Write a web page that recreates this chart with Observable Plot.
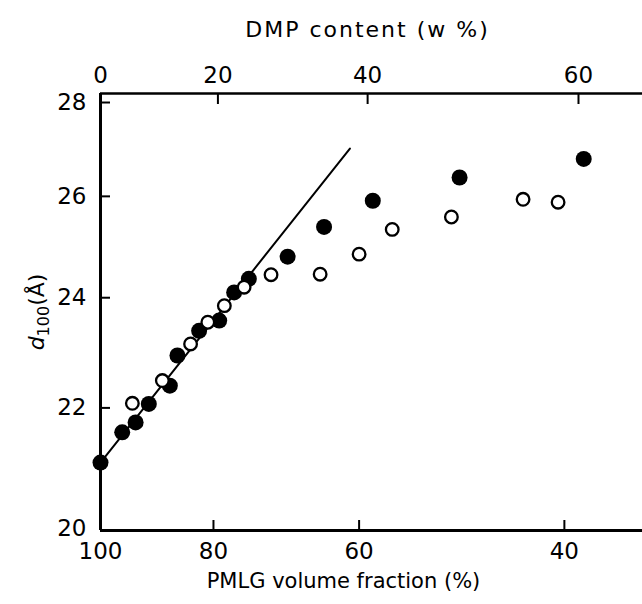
<!DOCTYPE html>
<html>
<head>
<meta charset="utf-8">
<script src="https://cdn.jsdelivr.net/npm/d3@7"></script>
<script src="https://cdn.jsdelivr.net/npm/@observablehq/plot@0.6"></script>
<style>
  body { margin: 0; background: #fff; }
  svg { display: block; }
</style>
</head>
<body>
<div id="chart"></div>
<script>
// Filled circles: PMLG volume fraction (%) vs d100 (Å)
const filledPhi = [100, 95.8, 93.3, 90.9, 87.2, 85.9, 82.3, 79.1, 76.8, 74.6, 69.1, 64.3, 58.4, 49.2, 38.5];
const filledD   = [21.07, 21.58, 21.75, 22.07, 22.39, 22.93, 23.38, 23.57, 24.10, 24.36, 24.79, 25.38, 25.91, 26.39, 26.78];
// Open circles
const openPhi = [93.9, 88.5, 83.7, 80.9, 78.3, 75.3, 71.4, 64.8, 60.0, 56.2, 50.0, 43.4, 40.5];
const openD   = [22.08, 22.48, 23.14, 23.54, 23.85, 24.20, 24.44, 24.45, 24.84, 25.33, 25.58, 25.94, 25.88];
// Straight reference line (end points)
const linePhi = [100, 61.1];
const lineD   = [21.07, 27.0];
// Axes
const pmlgTicks = [100, 80, 60, 40];
const dmpTicks = [0, 20, 40, 60];
const dmpTickPhi = [100, 79.3, 59.0, 38.9];
const dTicks = [20, 22, 24, 26, 28];
const xDomain = [100, 34.28];
const yDomain = [19.97, 28.2];

const font = "DejaVu Sans, sans-serif";
const filled = filledPhi.map((x, i) => ({x, y: filledD[i]}));
const open = openPhi.map((x, i) => ({x, y: openD[i]}));
const line = linePhi.map((x, i) => ({x, y: lineD[i]}));
const dmpMap = new Map(dmpTickPhi.map((p, i) => [p, String(dmpTicks[i])]));

const plot = Plot.plot({
  width: 642,
  height: 604,
  marginLeft: 100,
  marginRight: 0,
  marginTop: 93,
  marginBottom: 74,
  style: {fontFamily: font, fontSize: "23px", color: "#000", background: "#fff", overflow: "visible"},
  x: {type: "log", domain: xDomain},
  y: {type: "log", domain: yDomain},
  marks: [
    // frame lines
    Plot.ruleY([yDomain[0]], {strokeWidth: 3}),
    Plot.ruleY([yDomain[1]], {strokeWidth: 2.5}),
    Plot.ruleX([xDomain[0]], {strokeWidth: 3}),
    // left axis
    Plot.axisY(dTicks.slice(1), {anchor: "left", tickSize: -10, strokeWidth: 2, tickFormat: () => "", label: null}),
    Plot.axisY(dTicks, {anchor: "left", tickSize: 0, tickPadding: 14, tickFormat: d => String(d), label: null, fontSize: 23}),
    // bottom axis
    Plot.axisX(pmlgTicks.slice(1), {anchor: "bottom", tickSize: -10, strokeWidth: 2, tickFormat: () => "", label: null}),
    Plot.axisX(pmlgTicks, {anchor: "bottom", tickSize: 0, tickPadding: 12, tickFormat: d => String(d), label: null, fontSize: 23}),
    // top axis (DMP content)
    Plot.axisX(dmpTickPhi.slice(1), {anchor: "top", tickSize: -10, strokeWidth: 2, tickFormat: () => "", label: null}),
    Plot.axisX(dmpTickPhi, {anchor: "top", tickSize: 0, tickPadding: 11, tickFormat: d => dmpMap.get(d), label: null, fontSize: 23}),
    // titles
    Plot.text(["DMP content (w %)"], {text: d => d, frameAnchor: "top", dy: -72, dx: -4, fontSize: 22}),
    Plot.text(["PMLG volume fraction (%)"], {text: d => d, frameAnchor: "bottom", dy: 57, dx: -28, fontSize: 21}),
    // data
    Plot.line(line, {x: "x", y: "y", strokeWidth: 2, stroke: "black"}),
    Plot.dot(filled, {x: "x", y: "y", r: 8, fill: "black", stroke: "none"}),
    Plot.dot(open, {x: "x", y: "y", r: 6.3, fill: "white", stroke: "black", strokeWidth: 2.3})
  ]
});

// widen the title to match the broad lettering of the original
d3.select(plot).selectAll("text")
  .filter(function() { return this.textContent === "DMP content (w %)"; })
  .attr("letter-spacing", "2px");

// y-axis label with subscript
const svg = d3.select(plot);
const t = svg.append("text")
  .attr("transform", "translate(44,312) rotate(-90)")
  .attr("text-anchor", "middle")
  .attr("font-family", font)
  .attr("font-size", 22)
  .attr("fill", "#000");
t.append("tspan").attr("font-style", "italic").text("d");
t.append("tspan").attr("font-size", 16).attr("dy", 5).text("100");
t.append("tspan").attr("dy", -5).text("(Å)");

document.getElementById("chart").appendChild(plot);
</script>
</body>
</html>
